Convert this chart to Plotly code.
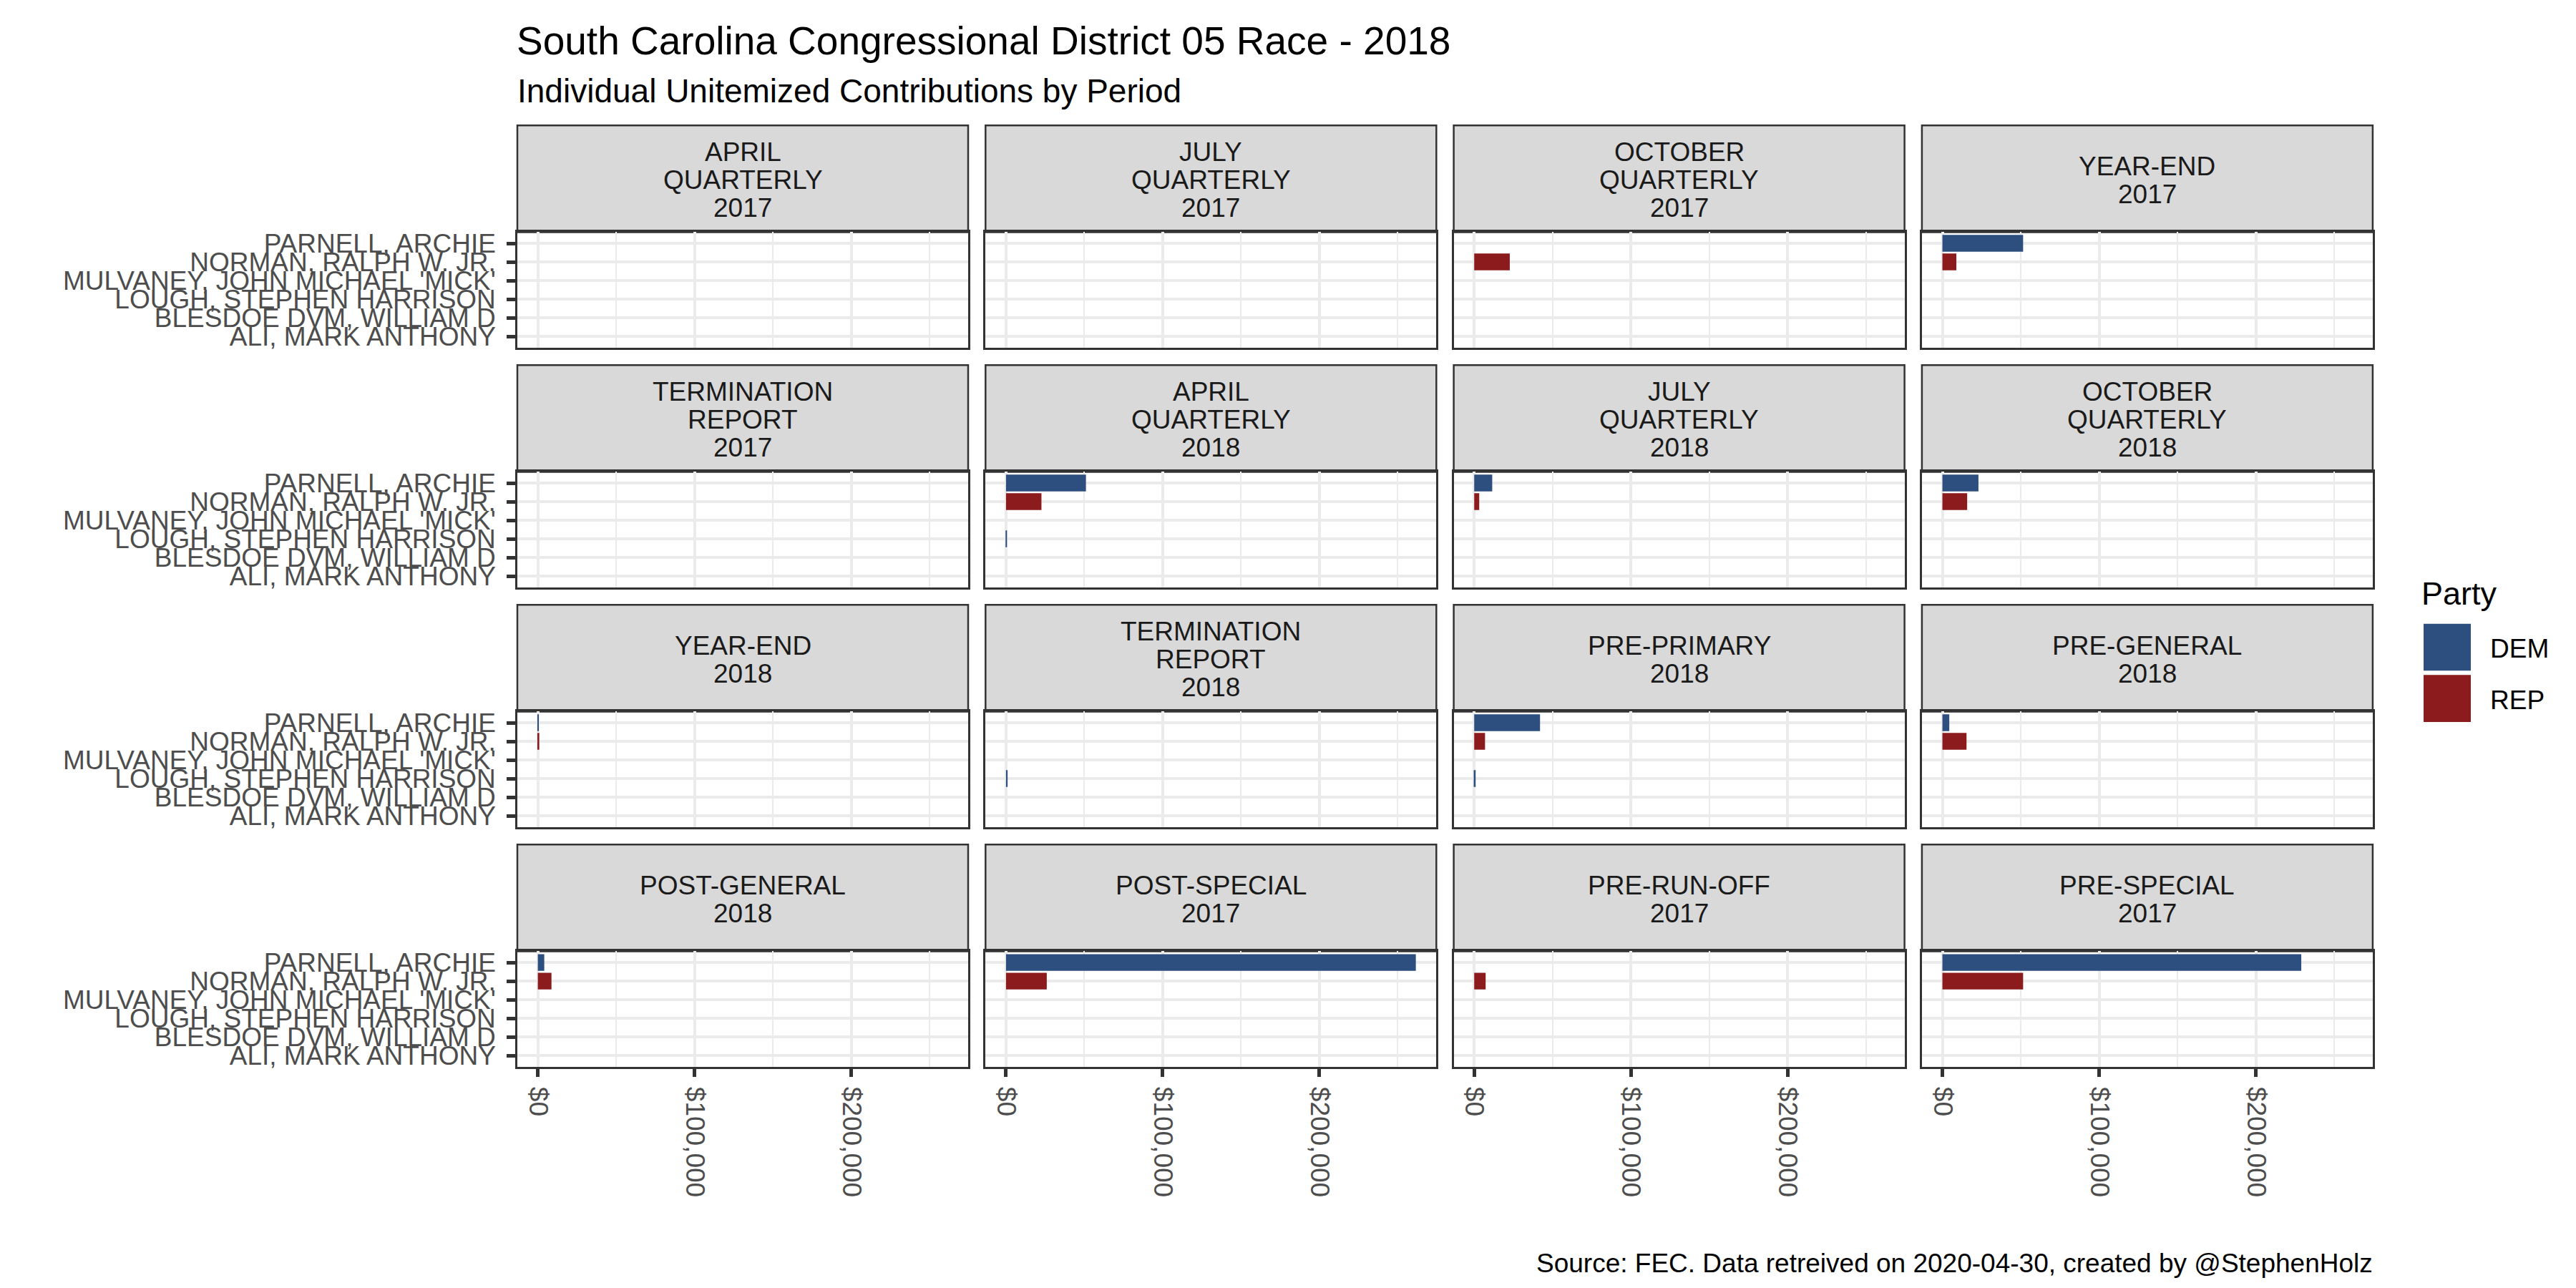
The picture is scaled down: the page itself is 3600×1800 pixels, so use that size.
import plotly.graph_objects as go

# ---------------- data ----------------
periods = [
    "APRIL\nQUARTERLY\n2017", "JULY\nQUARTERLY\n2017", "OCTOBER\nQUARTERLY\n2017", "YEAR-END\n2017",
    "TERMINATION\nREPORT\n2017", "APRIL\nQUARTERLY\n2018", "JULY\nQUARTERLY\n2018", "OCTOBER\nQUARTERLY\n2018",
    "YEAR-END\n2018", "TERMINATION\nREPORT\n2018", "PRE-PRIMARY\n2018", "PRE-GENERAL\n2018",
    "POST-GENERAL\n2018", "POST-SPECIAL\n2017", "PRE-RUN-OFF\n2017", "PRE-SPECIAL\n2017",
]
candidates = [  # top to bottom
    "PARNELL, ARCHIE",
    "NORMAN, RALPH W. JR.",
    "MULVANEY, JOHN MICHAEL 'MICK'",
    "LOUGH, STEPHEN HARRISON",
    "BLESDOE DVM, WILLIAM D",
    "ALI, MARK ANTHONY",
]
parnell = [None, None, None, 51500, None, 51000, 11500, 23000, 600, None, 42000, 4400, 4100, 261500, None, 229000]
norman = [None, None, 22700, 8900, None, 22600, 3200, 15800, 900, None, 6900, 15400, 8700, 26000, 7300, 51500]
lough = [None, None, None, None, None, 500, None, None, None, 1000, 900, None, None, None, None, None]
series = [("PARNELL, ARCHIE", "DEM", parnell), ("NORMAN, RALPH W. JR.", "REP", norman),
          ("LOUGH, STEPHEN HARRISON", "DEM", lough)]
parties = ["DEM", "REP"]
party_colors = {"DEM": "#2C4F7F", "REP": "#8B1B1D"}
x_ticks = [0, 100000, 200000]

title = "South Carolina Congressional District 05 Race - 2018"
subtitle = "Individual Unitemized Contributions by Period"
caption = "Source: FEC. Data retreived on 2020-04-30, created by @StephenHolz"
legend_title = "Party"

# ---------------- layout geometry (pixels) ----------------
W, H = 3600, 1800
FONT = "Liberation Sans, Arial, sans-serif"
SMALL = 37
LEFT = 715.0
PW, GAP = 630.0, 24.3
STRIP_TOP0, STRIP_H, PANEL_H, ROW_PITCH = 164.0, 150.0, 162.0, 336.7


def fx(x):
    return x / W


def fy(y):
    return 1 - y / H


vmax = max(v for _, _, vals in series for v in vals if v is not None)
xrange = [-0.05 * vmax, 1.05 * vmax]
cat_order = list(reversed(candidates))

fig = go.Figure()
shapes, annotations = [], []

for i, label in enumerate(periods):
    r, c = divmod(i, 4)
    n = i + 1
    xa = "x" if n == 1 else f"x{n}"
    ya = "y" if n == 1 else f"y{n}"
    x0 = LEFT + c * (PW + GAP)
    x1 = x0 + PW
    st = STRIP_TOP0 + r * ROW_PITCH
    pt = st + STRIP_H
    pb = pt + PANEL_H

    # empty trace so that every facet panel is created
    fig.add_trace(go.Scatter(x=[], y=[], mode="markers", xaxis=xa, yaxis=ya,
                             showlegend=False, hoverinfo="skip"))
    for name, party, vals in series:
        v = vals[i]
        if v is None:
            continue
        fig.add_trace(go.Bar(
            x=[v], y=[name], orientation="h", width=0.9,
            marker=dict(color=party_colors[party], line=dict(width=0)),
            xaxis=xa, yaxis=ya, showlegend=False, hoverinfo="x+y",
        ))

    bottom_row = r == 3
    first_col = c == 0
    fig.layout[("xaxis" if n == 1 else f"xaxis{n}")] = dict(
        domain=[fx(x0), fx(x1)], anchor=ya, range=xrange, type="linear",
        tickmode="array", tickvals=x_ticks, tickformat="$,.0f",
        showticklabels=bottom_row, ticks="outside" if bottom_row else "",
        ticklen=12, tickwidth=4.5, tickcolor="#333333", tickangle=90,
        ticklabelstandoff=6,
        tickfont=dict(family=FONT, size=SMALL, color="#4D4D4D"),
        showgrid=True, gridcolor="#EBEBEB", gridwidth=3.7,
        minor=dict(tick0=0, dtick=50000, showgrid=True, gridcolor="#EBEBEB", gridwidth=2.2),
        zeroline=False, showline=True, mirror=True, linecolor="#333333", linewidth=2.5,
        fixedrange=True,
    )
    fig.layout[("yaxis" if n == 1 else f"yaxis{n}")] = dict(
        domain=[fy(pb), fy(pt)], anchor=xa, type="category",
        categoryorder="array", categoryarray=cat_order, range=[-0.6, len(candidates) - 0.4],
        tickmode="array", tickvals=cat_order, ticktext=cat_order,
        showticklabels=first_col, ticks="outside" if first_col else "",
        ticklen=12, tickwidth=4.5, tickcolor="#333333", ticklabelstandoff=8,
        tickfont=dict(family=FONT, size=SMALL, color="#4D4D4D"),
        showgrid=True, gridcolor="#EBEBEB", gridwidth=3.7,
        zeroline=False, showline=True, mirror=True, linecolor="#333333", linewidth=2.5,
        fixedrange=True,
    )

    shapes.append(dict(type="rect", xref="paper", yref="paper",
                       x0=fx(x0), x1=fx(x1), y0=fy(pt), y1=fy(st),
                       fillcolor="#D9D9D9", line=dict(color="#333333", width=2.5), layer="below"))
    lines = label.split("\n")
    lh = 39.3
    mid = (st + pt) / 2
    for k, ln in enumerate(lines):
        yy = mid + (k - (len(lines) - 1) / 2) * lh
        annotations.append(dict(text=ln, xref="paper", yref="paper", x=fx((x0 + x1) / 2), y=fy(yy + 2),
                                xanchor="center", yanchor="middle", showarrow=False,
                                font=dict(family=FONT, size=SMALL, color="#1A1A1A")))

# titles
annotations.append(dict(text=title, xref="paper", yref="paper", x=fx(712), y=fy(45),
                        xanchor="left", yanchor="middle", showarrow=False,
                        font=dict(family=FONT, size=55, color="#000000")))
annotations.append(dict(text=subtitle, xref="paper", yref="paper", x=fx(713), y=fy(116),
                        xanchor="left", yanchor="middle", showarrow=False,
                        font=dict(family=FONT, size=46, color="#000000")))
annotations.append(dict(text=caption, xref="paper", yref="paper", x=fx(3310), y=fy(1762),
                        xanchor="right", yanchor="middle", showarrow=False,
                        font=dict(family=FONT, size=SMALL, color="#000000")))

# legend
annotations.append(dict(text=legend_title, xref="paper", yref="paper", x=fx(3374), y=fy(822),
                        xanchor="left", yanchor="middle", showarrow=False,
                        font=dict(family=FONT, size=45, color="#000000")))
for k, p in enumerate(parties):
    ky0 = 864 + k * 72
    shapes.append(dict(type="rect", xref="paper", yref="paper",
                       x0=fx(3379), x1=fx(3445), y0=fy(ky0 + 66), y1=fy(ky0),
                       fillcolor=party_colors[p], line=dict(width=0)))
    annotations.append(dict(text=p, xref="paper", yref="paper", x=fx(3470), y=fy(ky0 + 35),
                            xanchor="left", yanchor="middle", showarrow=False,
                            font=dict(family=FONT, size=SMALL, color="#000000")))

fig.update_layout(
    width=W, height=H, margin=dict(l=0, r=0, t=0, b=0),
    paper_bgcolor="white", plot_bgcolor="white",
    shapes=shapes, annotations=annotations, barmode="overlay",
    showlegend=False, font=dict(family=FONT),
)

fig.write_html("out.html")
